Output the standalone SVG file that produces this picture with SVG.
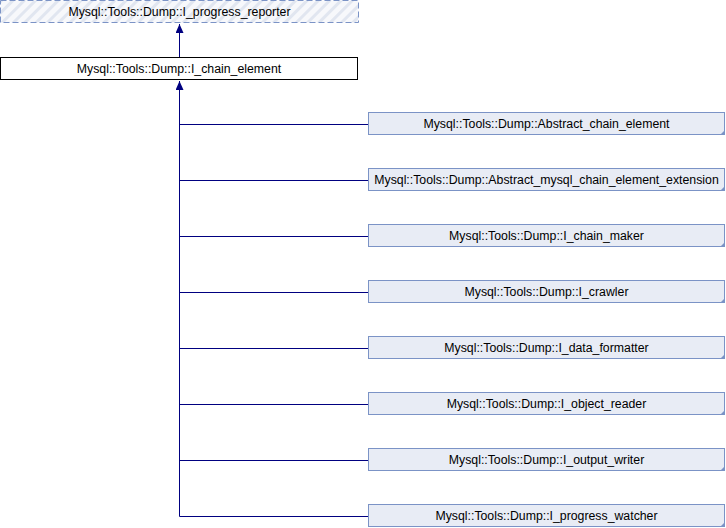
<svg xmlns="http://www.w3.org/2000/svg" width="726" height="528" viewBox="0 0 726 528">
<style>
.t{font-family:"Liberation Sans",Arial,sans-serif;font-size:12.3px;fill:#000;text-anchor:middle}
.d{fill:#E8ECF5;stroke:#7B93C6;stroke-width:1}
.c{fill:none;stroke:#000080;stroke-width:1}
.cr{fill:#7B93C6}
</style>
<defs>
<pattern id="h" patternUnits="userSpaceOnUse" width="8" height="8" patternTransform="rotate(-45)">
<rect width="8" height="8" fill="#F7F8FB"/>
<rect width="8" height="3" fill="#E1E6F0"/>
</pattern>
<marker id="a" markerWidth="10" markerHeight="10" refX="9" refY="4" orient="auto" markerUnits="userSpaceOnUse">
<path d="M0,0 L9,4 L0,8 z" fill="#000080"/>
</marker>
</defs>
<g id="n0">
<rect x="0.5" y="0.5" width="358" height="22" fill="url(#h)" stroke="#7B93C6" stroke-dasharray="6,3"/>
<text class="t" x="179.5" y="16">Mysql::Tools::Dump::I_progress_reporter</text>
</g>
<g id="n1">
<rect x="0.5" y="57.5" width="357" height="22" fill="#fff" stroke="#000"/>
<text class="t" x="179" y="72.5">Mysql::Tools::Dump::I_chain_element</text>
</g>
<g id="n2"><rect class="d" x="368.5" y="112.5" width="356" height="22"/><path class="cr" d="M725,130 L725,135 L720,135 z"/><text class="t" x="546.5" y="127.5">Mysql::Tools::Dump::Abstract_chain_element</text></g>
<g id="n3"><rect class="d" x="368.5" y="168.5" width="356" height="22"/><path class="cr" d="M725,186 L725,191 L720,191 z"/><text class="t" x="546.5" y="183.5">Mysql::Tools::Dump::Abstract_mysql_chain_element_extension</text></g>
<g id="n4"><rect class="d" x="368.5" y="224.5" width="356" height="22"/><path class="cr" d="M725,242 L725,247 L720,247 z"/><text class="t" x="546.5" y="239.5">Mysql::Tools::Dump::I_chain_maker</text></g>
<g id="n5"><rect class="d" x="368.5" y="280.5" width="356" height="22"/><path class="cr" d="M725,298 L725,303 L720,303 z"/><text class="t" x="546.5" y="295.5">Mysql::Tools::Dump::I_crawler</text></g>
<g id="n6"><rect class="d" x="368.5" y="336.5" width="356" height="22"/><path class="cr" d="M725,354 L725,359 L720,359 z"/><text class="t" x="546.5" y="351.5">Mysql::Tools::Dump::I_data_formatter</text></g>
<g id="n7"><rect class="d" x="368.5" y="392.5" width="356" height="22"/><path class="cr" d="M725,410 L725,415 L720,415 z"/><text class="t" x="546.5" y="407.5">Mysql::Tools::Dump::I_object_reader</text></g>
<g id="n8"><rect class="d" x="368.5" y="448.5" width="356" height="22"/><path class="cr" d="M725,466 L725,471 L720,471 z"/><text class="t" x="546.5" y="463.5">Mysql::Tools::Dump::I_output_writer</text></g>
<g id="n9"><rect class="d" x="368.5" y="504.5" width="356" height="22"/><path class="cr" d="M725,522 L725,527 L720,527 z"/><text class="t" x="546.5" y="519.5">Mysql::Tools::Dump::I_progress_watcher</text></g>
<g id="edges">
<path class="c" d="M179.5,57 L179.5,24" marker-end="url(#a)"/>
<path class="c" d="M179.5,516.5 L179.5,81" marker-end="url(#a)"/>
<path class="c" d="M179.5,124.5 H368 M179.5,180.5 H368 M179.5,236.5 H368 M179.5,292.5 H368 M179.5,348.5 H368 M179.5,404.5 H368 M179.5,460.5 H368 M179.5,516.5 H368"/>
</g>
</svg>
